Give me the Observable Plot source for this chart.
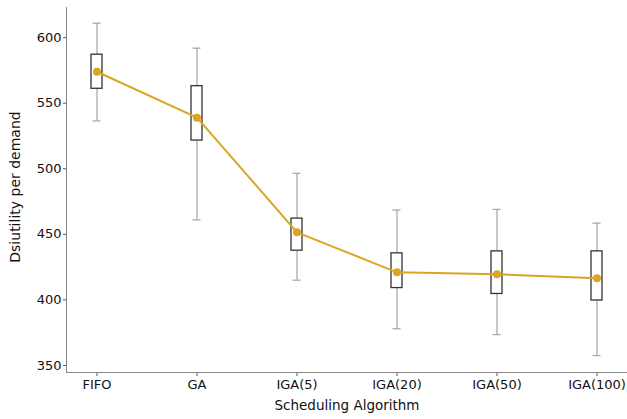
<!DOCTYPE html>
<html>
<head>
<meta charset="utf-8">
<script src="https://cdn.jsdelivr.net/npm/d3@7"></script>
<script src="https://cdn.jsdelivr.net/npm/@observablehq/plot@0.6"></script>
<style>
  html, body { margin: 0; padding: 0; background: #fff; }
  svg { font-family: "DejaVu Sans", sans-serif; }
</style>
</head>
<body>
<div id="chart"></div>
<script>
const algorithms = ["FIFO", "GA", "IGA(5)", "IGA(20)", "IGA(50)", "IGA(100)"];
const means      = [574, 539, 451.5, 421, 419.5, 416.5];
const q1         = [561, 521.5, 437.5, 409, 404.5, 399.5];
const q3         = [587, 563, 462, 435.5, 437, 437];
const lows       = [536.5, 461, 415, 378, 373.5, 357.5];
const highs      = [611, 592, 496.5, 468.5, 469, 458.5];
const yTicks     = [350, 400, 450, 500, 550, 600];

const data = algorithms.map((a, i) => ({
  alg: a, mean: means[i], q1: q1[i], q3: q3[i], low: lows[i], high: highs[i]
}));

const gold = "#DAA520";
const whisker = "#aaaaaa";

const chart = Plot.plot({
  width: 627,
  height: 419,
  marginLeft: 66,
  marginRight: 0,
  marginTop: 7,
  marginBottom: 47,
  style: { fontFamily: "DejaVu Sans, sans-serif", fontSize: "13px", color: "#111", background: "#fff" },
  x: { type: "band", domain: algorithms, paddingInner: 0.89, paddingOuter: 0.2445, label: null },
  y: { domain: [344.6, 623], label: null },
  marks: [
    Plot.axisY({ ticks: yTicks, tickSize: 3, tickPadding: 2, label: null, fontSize: 13, stroke: "#555" }),
    Plot.axisX({ tickSize: 4, tickPadding: 3, label: null, fontSize: 13, stroke: "#555" }),
    Plot.frame({ anchor: "left", stroke: "#888" }),
    Plot.frame({ anchor: "bottom", stroke: "#888" }),
    Plot.ruleX(data, { x: "alg", y1: "low", y2: "high", stroke: whisker, strokeWidth: 1.3 }),
    Plot.tickY(data, { x: "alg", y: "low", stroke: whisker, strokeWidth: 1.3, insetLeft: 1.5, insetRight: 1.5 }),
    Plot.tickY(data, { x: "alg", y: "high", stroke: whisker, strokeWidth: 1.3, insetLeft: 1.5, insetRight: 1.5 }),
    Plot.barY(data, { x: "alg", y1: "q1", y2: "q3", fill: "white", stroke: "#333", strokeWidth: 1.3 }),
    Plot.line(data, { x: "alg", y: "mean", stroke: gold, strokeWidth: 2 }),
    Plot.dot(data, { x: "alg", y: "mean", fill: gold, r: 4 }),
    Plot.text(["Dsiutility per demand"], { frameAnchor: "left", textAnchor: "middle", dx: -51, dy: -3, rotate: -90, fontSize: 14, fill: "#111" }),
    Plot.text(["Scheduling Algorithm"], { frameAnchor: "bottom", dy: 37, fontSize: 13.5, fill: "#111" })
  ]
});
document.getElementById("chart").appendChild(chart);
</script>
</body>
</html>
